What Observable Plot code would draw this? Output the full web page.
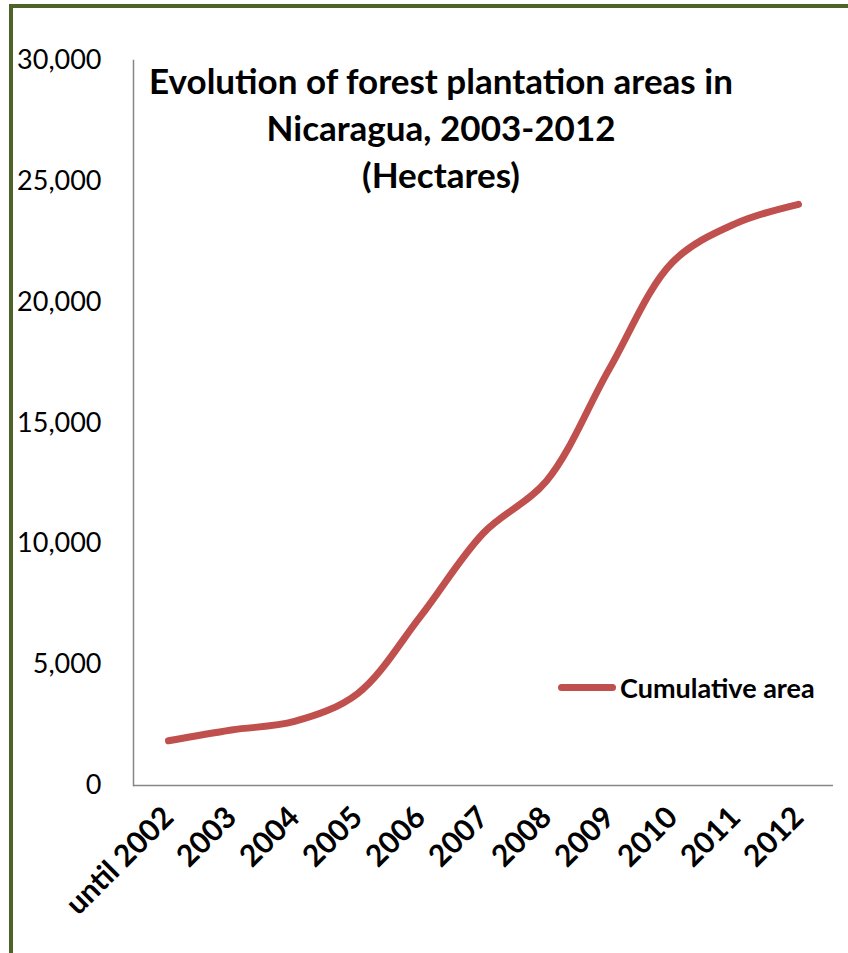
<!DOCTYPE html>
<html>
<head>
<meta charset="utf-8">
<script src="https://cdn.jsdelivr.net/npm/d3@7"></script>
<script src="https://cdn.jsdelivr.net/npm/@observablehq/plot@0.6"></script>
<style>
  html, body { margin: 0; padding: 0; background: #fff; }
  #wrap { position: relative; width: 848px; height: 953px; overflow: hidden; font-family: Lato, "Open Sans", sans-serif; }
  #border { position: absolute; left: 9px; top: 4px; width: 900px; height: 1000px; border-top: 4px solid #4f6228; border-left: 4px solid #4f6228; }
  #chart { position: absolute; left: 0; top: 0; }
  #title { position: absolute; left: 91px; width: 700px; top: 57px; text-align: center; font-weight: 700; font-size: 35px; line-height: 47px; color: #000; }
  #legend { position: absolute; left: 558px; top: 671px; display: flex; align-items: center; font-weight: 700; font-size: 27px; color: #000; }
  #legend .sw { width: 58px; height: 7px; border-radius: 4px; background: #c0504d; margin-right: 4px; }
</style>
</head>
<body>
<div id="wrap">
  <div id="border"></div>
  <div id="chart"></div>
  <div id="title">Evolution of forest plantation areas in<br>Nicaragua, 2003-2012<br>(Hectares)</div>
  <div id="legend"><div class="sw"></div><span>Cumulative area</span></div>
</div>
<script>
const years = ["until 2002", "2003", "2004", "2005", "2006", "2007", "2008", "2009", "2010", "2011", "2012"];
const cumulativeArea = [1850, 2300, 2650, 3800, 7000, 10450, 12600, 17250, 21650, 23250, 24050];
const yTicks = [0, 5000, 10000, 15000, 20000, 25000, 30000];

const data = years.map((y, i) => ({year: y, area: cumulativeArea[i]}));

const chart = Plot.plot({
  width: 848,
  height: 953,
  marginLeft: 133,
  marginRight: 15,
  marginTop: 60,
  marginBottom: 168,
  style: {background: "transparent", fontFamily: "Lato, 'Open Sans', sans-serif", color: "#000"},
  x: {type: "point", domain: years, padding: 0.5},
  y: {domain: [0, 30000]},
  marks: [
    Plot.frame({anchor: "left", stroke: "#868686", strokeWidth: 1.5}),
    Plot.ruleY([0], {stroke: "#868686", strokeWidth: 1.5}),
    Plot.axisY({ticks: yTicks, tickSize: 0, tickPadding: 32, tickFormat: d3.format(","), fontSize: 27, label: null}),
    Plot.axisX({tickSize: 0, tickRotate: -45, tickPadding: 27, fontSize: 30, fontWeight: "bold", label: null}),
    Plot.line(data, {x: "year", y: "area", stroke: "#c0504d", strokeWidth: 7, curve: "catmull-rom", strokeLinecap: "round", strokeLinejoin: "round"})
  ]
});
document.getElementById("chart").appendChild(chart);
</script>
</body>
</html>
